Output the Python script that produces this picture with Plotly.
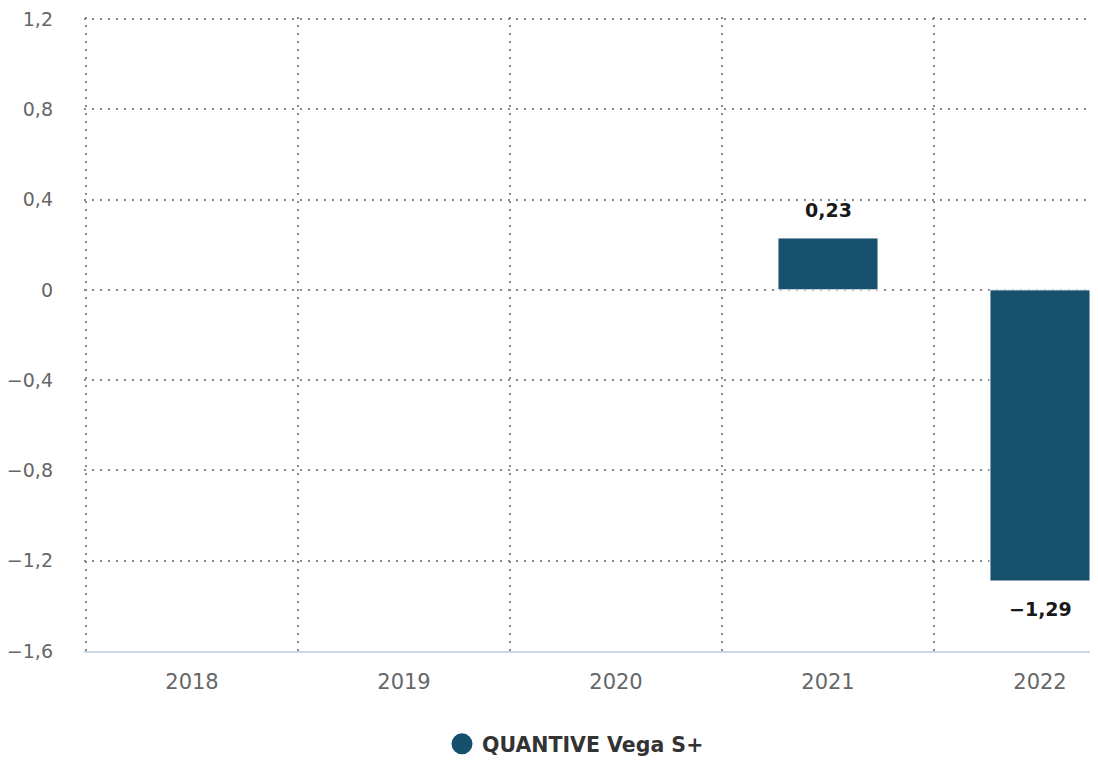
import plotly.graph_objects as go

categories = ["2018", "2019", "2020", "2021", "2022"]
values = [None, None, None, 0.23, -1.29]
series_name = "QUANTIVE Vega S+"
y_ticks = [-1.6, -1.2, -0.8, -0.4, 0, 0.4, 0.8, 1.2]

BAR_COLOR = "#16506d"
FONT = "DejaVu Sans"
GRID = "#8a8a8a"

# page body has an 8px margin: figure coordinates are offset by 8px
PLOT_L, PLOT_R, PLOT_T, PLOT_B = 76, 1090, 9, 643
W, H = 1098, 762
PX_PER_CAT = 212.0
PX_PER_UNIT = 632.0 / 2.8

x0 = -0.5 - 2.0 / PX_PER_CAT
x1 = x0 + (PLOT_R - PLOT_L) / PX_PER_CAT
y1 = 1.2 + 2.0 / PX_PER_UNIT

fig = go.Figure()
fig.add_trace(go.Bar(
    x=categories, y=values, name=series_name,
    marker=dict(color=BAR_COLOR, line=dict(color="#ffffff", width=1)),
    width=0.472, showlegend=False, hoverinfo="skip",
))
# legend entry with circle symbol
fig.add_trace(go.Scatter(
    x=[None], y=[None], mode="markers", name=series_name,
    marker=dict(color=BAR_COLOR, size=18, symbol="circle",
                line=dict(color=BAR_COLOR, width=5)),
))

for i, v in enumerate(values):
    if v is None:
        continue
    txt = f"{v:.2f}".replace(".", ",").replace("-", "\u2212")
    fig.add_annotation(
        x=i, y=v, text=f"<b>{txt}</b>", showarrow=False,
        yanchor="middle", yshift=28 if v >= 0 else -28,
        font=dict(family=FONT, size=19, color="#1a1a1a"),
    )

fig.update_layout(
    width=W, height=H,
    margin=dict(l=PLOT_L, r=W - PLOT_R, t=PLOT_T, b=H - PLOT_B, autoexpand=False),
    paper_bgcolor="white", plot_bgcolor="white",
    separators=", ",
    font=dict(family=FONT),
    showlegend=True,
    legend=dict(
        orientation="h", xref="container", x=434 / W, xanchor="left",
        yref="container", y=(H - 736) / H, yanchor="middle",
        font=dict(family=FONT, size=20.5, color="#333333", weight="bold"),
        itemsizing="trace",
    ),
)
fig.update_xaxes(
    type="category", categoryorder="array", categoryarray=categories,
    range=[x0, x1], automargin=False,
    tickson="boundaries", ticks="",
    showgrid=True, gridcolor=GRID, griddash="2px,6px", gridwidth=1.5,
    showline=True, linecolor="#ccd6eb", linewidth=1.5,
    tickfont=dict(family=FONT, size=21, color="#666666"),
    ticklabelstandoff=11,
    fixedrange=True,
)
fig.update_yaxes(
    range=[-1.6, y1], tickvals=y_ticks, automargin=False,
    ticklabeloverflow="allow",
    showgrid=True, gridcolor=GRID, griddash="2px,6px", gridwidth=1.5,
    zeroline=False, showline=False, ticks="",
    tickfont=dict(family=FONT, size=19, color="#666666"),
    ticklabelstandoff=30,
    fixedrange=True,
)

fig.write_html("out.html")
